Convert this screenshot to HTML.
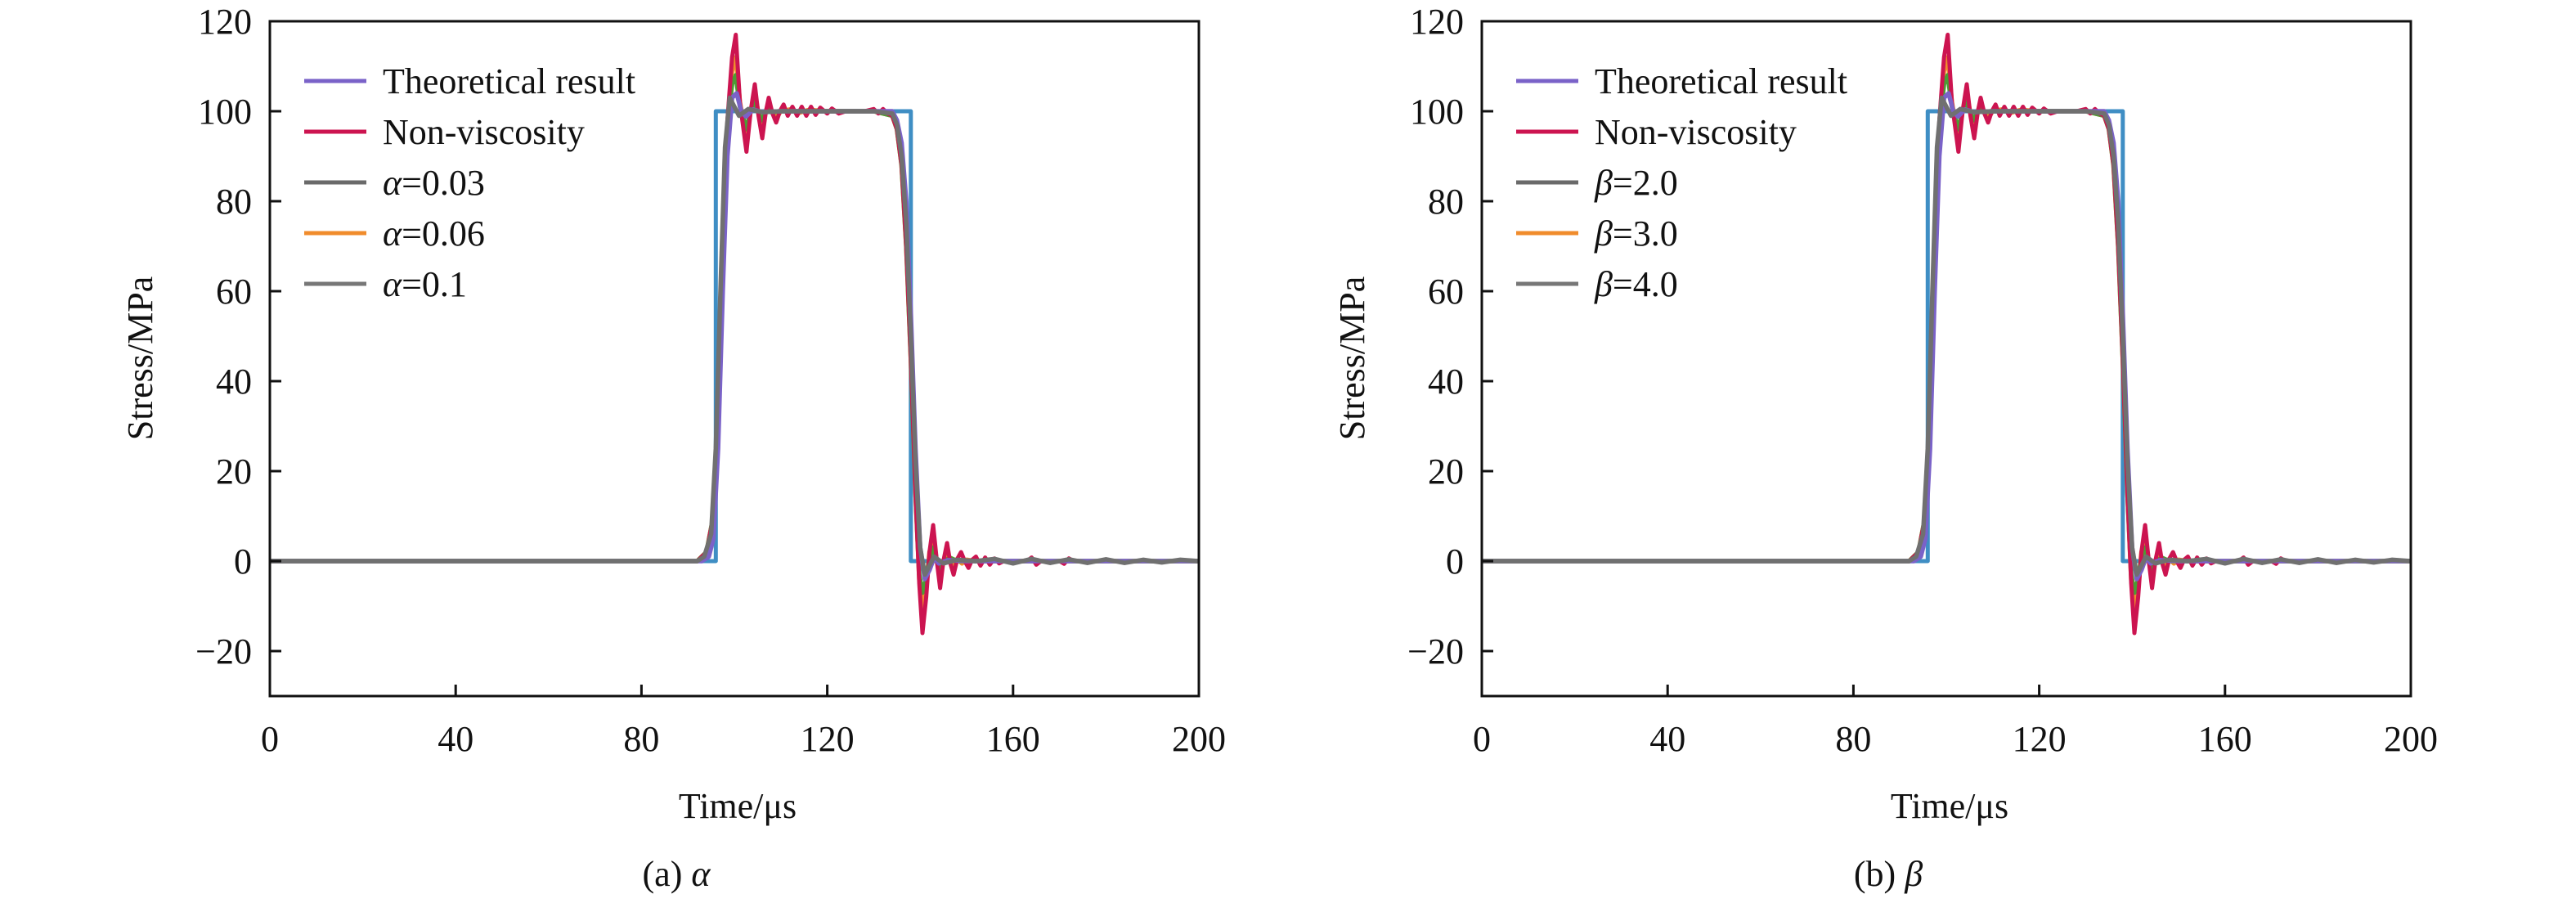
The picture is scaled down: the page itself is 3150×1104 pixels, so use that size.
<!DOCTYPE html>
<html><head><meta charset="utf-8"><style>
html,body{margin:0;padding:0;background:#fff;}
svg{display:block;font-family:"Liberation Serif",serif;}
</style></head><body>
<svg id="chart" width="3150" height="1104" viewBox="0 0 3150 1104" xmlns="http://www.w3.org/2000/svg"></svg>
<script>
const xTicks=[0,40,80,120,160,200];
const yTicks=[-20,0,20,40,60,80,100,120];
const squareT=[0,96,96,138,138,200];
const squareV=[0,0,100,100,0,0];
const redT=[0,92,94,95.5,96.5,97.5,98.5,99.5,100.3,101.2,102.6,103.5,104.4,105.2,106,106.8,107.4,108.2,109,109.8,110.6,111.5,112.5,113.5,114.5,115.5,116.5,117.5,118.5,120,121,122.5,124,128,130,131,132,133,134,135,136,137,138,139,139.8,140.5,141.3,142,142.8,143.6,144.3,145,145.8,146.5,147.2,148,148.8,149.6,150.4,151.2,152,153,154,155,156,157,158,163,164,165,166,170,171,172,173,200];
const redV=[0,0,2,10,35,70,98,112,117,102,91,100,106,99,94,100,103,99.5,97.5,100,101.5,99,101,99,101,99,101,99.2,100.8,99.5,100.6,99.5,100,100,100.5,99.5,100.5,99.5,99,96,88,70,45,15,-5,-16,-8,2,8,0,-6,0,4,-0.5,-3,0.5,2,0,-1.5,0.3,1,-1,0.8,-0.8,0.6,-0.5,0,0,0.8,-0.8,0,0,-0.6,0.6,0,0];
const orangeT=[0,92,94,95.5,96.5,97.5,98.5,99.5,100.3,101.2,102.6,103.5,104.4,105.2,106,106.8,107.4,108.2,109,110,112,114,116,120,130,134,135,136,137,138,139,139.8,140.5,141.3,142,142.8,143.6,144.3,145,145.8,146.5,147.2,148,149,150,152,154,200];
const orangeV=[0,0,2,10,35,70,97,109,112,102,94,100,104,99.5,96,100,102,99.6,98.5,100,100.4,99.7,100.3,100,100,99,96,88,70,45,15,-4,-11,-6,2,5,0,-3.5,0,2,0,-1.5,0.5,-0.5,0.3,0,0,0];
const greenT=[0,92,94,95.5,96.5,97.5,98.5,99.5,100.3,101.2,102.6,103.5,104.4,105.2,106,106.8,107.4,108.2,110,114,130,134,135,136,137,138,139,139.8,140.5,141.3,142,142.8,143.6,144.3,145,146.5,148,200];
const greenV=[0,0,2,10,35,70,97,106,108,101,96,100,102,99.6,98,100,101,99.8,100,100,100,99,96,88,70,45,15,-3,-7,-4,1,3,0,-2,0,0.7,0,0];
const purpleT=[0,93,94.5,95.5,96.5,97.5,98.5,99.5,100.5,101.5,102.5,104,106,110,134,135,136,137,138,139,140,141,142,143,144,146,150,200];
const purpleV=[0,0,1,5,25,60,90,103,104,100,98.8,100.4,99.8,100,100,98,93,80,55,25,3,-4,-2,0.8,-0.5,0.2,0,0];
const grayT=[0,92,93.5,95,96,97,98,99,100,101,103,106,110,130,134,135,136,137,138,139,140,141,142,143,145,148,152,156,160,164,168,172,176,180,184,188,192,196,200];
const grayV=[0,0,1,6,25,60,92,103,101,99,100.5,99.8,100,100,99.5,97,90,75,50,22,3,-3,-1,1,-0.5,0.3,0,0.5,-0.5,0.5,-0.4,0.4,-0.4,0.4,-0.4,0.3,-0.3,0.3,0];
const legendLabelsA=["Theoretical result","Non-viscosity","α=0.03","α=0.06","α=0.1"];
const legendLabelsB=["Theoretical result","Non-viscosity","β=2.0","β=3.0","β=4.0"];
const legendColors=["#7a62c8","#cc1450","#6a6a6a","#f08c2c","#777777"];

const NS="http://www.w3.org/2000/svg";
const svg=document.getElementById('chart');
function mk(tag,attrs,parent){const e=document.createElementNS(NS,tag);for(const k in attrs)e.setAttribute(k,attrs[k]);(parent||svg).appendChild(e);return e;}

function panel(ox,labels,caption,sym,key){
  const X0=ox+330,X1=ox+1466,Y0=851,Y1=26;
  const sx=t=>X0+(t-0)/(200-0)*(X1-X0);
  const sy=v=>Y0-(v+30)/(150)*(Y0-Y1);
  const g=mk('g',{});
  
  
  const clip=mk('clipPath',{id:'clip'+key},g);
  mk('rect',{x:X0,y:Y1,width:X1-X0,height:Y0-Y1},clip);
  const series=[
    ['square-theory',squareT,squareV,'#3f8ec4',5],
    ['orange-series',orangeT,orangeV,'#f08c2c',5.5],
    ['green-series',greenT,greenV,'#4c9c34',5.5],
    ['red-non-viscosity',redT,redV,'#cc1450',5],
    ['purple-series',purpleT,purpleV,'#7a62c8',5.5],
    ['gray-alpha-0.1',grayT,grayV,'#707070',5.5]
  ];
  const sg=mk('g',{'clip-path':'url(#clip'+key+')'},g);
  for(const s of series){
    const d=s[1].map((t,i)=>(i?'L':'M')+sx(t).toFixed(1)+' '+sy(s[2][i]).toFixed(1)).join(' ');
    const p=mk('path',{d:d,fill:'none',stroke:s[3],'stroke-width':s[4],'stroke-linejoin':'round'},sg);
    
    
  }
  const fr=mk('rect',{x:X0,y:Y1,width:X1-X0,height:Y0-Y1,fill:'none',stroke:'#111','stroke-width':3},g);
  
  
  for(const t of xTicks){
    const x=sx(t);
    mk('line',{x1:x,x2:x,y1:Y0,y2:Y0-14,stroke:'#111','stroke-width':3},g);
    const tx=mk('text',{x:x,y:918,'font-size':44,'text-anchor':'middle',fill:'#111'},g);
    tx.textContent=t;
    
    
  }
  for(const v of yTicks){
    const y=sy(v);
    mk('line',{x1:X0,x2:X0+14,y1:y,y2:y,stroke:'#111','stroke-width':3},g);
    const tx=mk('text',{x:X0-22,y:y+15,'font-size':44,'text-anchor':'end',fill:'#111'},g);
    tx.textContent=v<0?'−'+(-v):v;
    
    
  }
  const xt=mk('text',{x:ox+902,y:1000,'font-size':44,'text-anchor':'middle',fill:'#111'},g);
  xt.textContent='Time/μs';
  
  
  const yt=mk('text',{x:0,y:0,'font-size':44,'text-anchor':'middle',fill:'#111',transform:'translate('+(ox+186)+',438) rotate(-90)'},g);
  yt.textContent='Stress/MPa';
  
  
  const cap=mk('text',{x:ox+827,y:1083,'font-size':44,'text-anchor':'middle',fill:'#111'},g);
  cap.innerHTML=caption+' <tspan font-style="italic">'+sym+'</tspan>';
  
  
  const lg=mk('g',{},g);
  
  
  labels.forEach((lab,i)=>{
    const y=99+i*62;
    const e=mk('g',{},lg);
    
    
    mk('line',{x1:ox+372,x2:ox+448,y1:y,y2:y,stroke:legendColors[i],'stroke-width':5},e);
    const t=mk('text',{x:ox+468,y:y+15,'font-size':44,fill:'#111'},e);
    const m=lab.match(/^([αβ])(.*)$/);
    if(m){t.innerHTML='<tspan font-style="italic">'+m[1]+'</tspan>'+m[2];}else t.textContent=lab;
  });
}
panel(0,legendLabelsA,'(a)','α','a');
panel(1482,legendLabelsB,'(b)','β','b');
</script>
</body></html>
